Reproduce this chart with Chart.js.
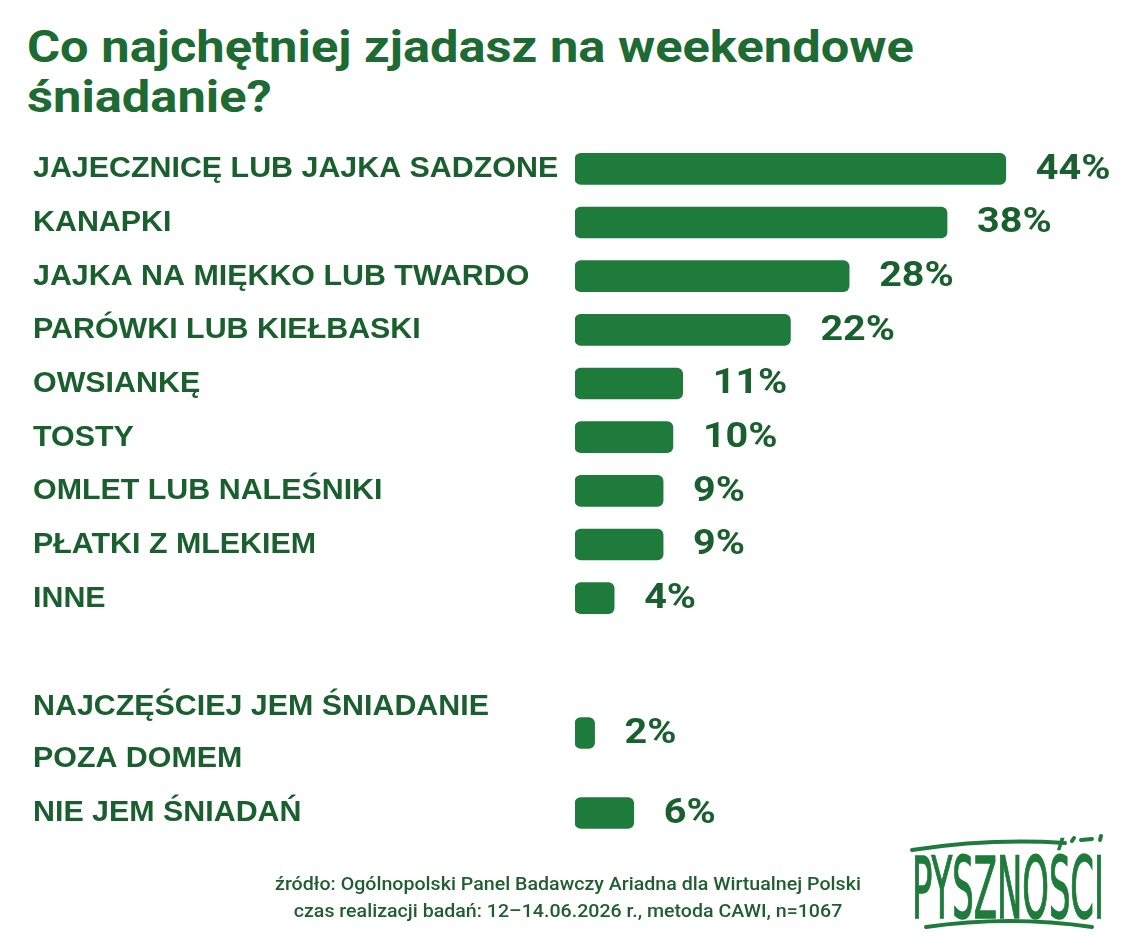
<!DOCTYPE html>
<html lang="pl">
<head>
<meta charset="utf-8">
<script src="https://cdn.jsdelivr.net/npm/chart.js@4"></script>
<style>
  html, body { margin: 0; padding: 0; background: #ffffff; }
  body { width: 1136px; height: 944px; position: relative; overflow: hidden; font-family: Roboto, "Liberation Sans", sans-serif; }
  #title { position: absolute; left: 27px; top: 22px; margin: 0; font-family: Roboto, sans-serif; font-weight: 700; font-size: 45px; line-height: 50px; color: #1d6b33; transform: scaleX(1.125); transform-origin: left top; white-space: nowrap; }
  .chart { position: absolute; left: 0; width: 1136px; }
  #c1wrap { top: 122px; height: 523px; }
  #c2wrap { top: 653px; height: 220px; }
  #footer { position: absolute; left: 168px; width: 800px; top: 871px; text-align: center; font-family: Roboto, sans-serif; font-weight: 500; font-size: 18.5px; line-height: 27px; color: #1f5f2f; }
  #footer div { transform: scaleX(1.06); white-space: nowrap; }
  #logo { position: absolute; left: 900px; top: 830px; }
</style>
</head>
<body>
<h1 id="title">Co najchętniej zjadasz na weekendowe<br>śniadanie?</h1>
<div class="chart" id="c1wrap"><canvas id="c1"></canvas></div>
<div class="chart" id="c2wrap"><canvas id="c2"></canvas></div>
<div id="footer">
  <div>źródło: Ogólnopolski Panel Badawczy Ariadna dla Wirtualnej Polski</div>
  <div>czas realizacji badań: 12–14.06.2026 r., metoda CAWI, n=1067</div>
</div>
<svg id="logo" width="220" height="110" viewBox="0 0 220 110">
  <path d="M12 20 Q 90 8 165 13" stroke="#1e7b3b" stroke-width="4" fill="none" stroke-linecap="round"/>
  <path d="M172 11 L 174 8" stroke="#1e7b3b" stroke-width="4" fill="none" stroke-linecap="round"/>
  <path d="M181 10 L 192 9" stroke="#1e7b3b" stroke-width="4" fill="none" stroke-linecap="round"/>
  <path d="M200 10 L 201 6" stroke="#1e7b3b" stroke-width="4" fill="none" stroke-linecap="round"/>
  <path d="M26 97 Q 110 85 192 97" stroke="#1e7b3b" stroke-width="4" fill="none" stroke-linecap="round"/>
  <text x="12" y="88" font-family="'DejaVu Sans Condensed', 'DejaVu Sans'" font-weight="normal" font-size="86" fill="#1e7b3b" stroke="#1e7b3b" stroke-width="1.5" textLength="192" lengthAdjust="spacingAndGlyphs">PYSZNOŚCI</text>
</svg>
<script>
const mainCategories = [
  'JAJECZNICĘ LUB JAJKA SADZONE',
  'KANAPKI',
  'JAJKA NA MIĘKKO LUB TWARDO',
  'PARÓWKI LUB KIEŁBASKI',
  'OWSIANKĘ',
  'TOSTY',
  'OMLET LUB NALEŚNIKI',
  'PŁATKI Z MLEKIEM',
  'INNE'
];
const mainValues = [44, 38, 28, 22, 11, 10, 9, 9, 4];

const extraCategories = [
  ['NAJCZĘŚCIEJ JEM ŚNIADANIE', 'POZA DOMEM'],
  'NIE JEM ŚNIADAŃ'
];
const extraValues = [2, 6];

const BAR_COLOR = '#1e7b3b';
const TEXT_COLOR = '#1a5f2e';
const X_MAX = 57.3;

const valueLabels = {
  id: 'valueLabels',
  afterDatasetsDraw(chart) {
    const ctx = chart.ctx;
    const meta = chart.getDatasetMeta(0);
    const data = chart.data.datasets[0].data;
    meta.data.forEach((bar, i) => {
      ctx.save();
      ctx.fillStyle = TEXT_COLOR;
      ctx.font = 'bold 35px Roboto, sans-serif';
      ctx.textAlign = 'left';
      ctx.textBaseline = 'middle';
      ctx.translate(bar.x + 30, bar.y + 1);
      ctx.scale(1.13, 1);
      ctx.fillText(data[i] + '%', 0, 0);
      ctx.restore();
    });
  }
};

function makeChart(id, labels, values, lineHeight, pad) {
  return new Chart(document.getElementById(id), {
    type: 'bar',
    data: {
      labels: labels,
      datasets: [{
        data: values,
        backgroundColor: BAR_COLOR,
        borderRadius: 6,
        borderSkipped: false,
        barThickness: 31
      }]
    },
    options: {
      indexAxis: 'y',
      responsive: true,
      maintainAspectRatio: false,
      animation: false,
      layout: { padding: { left: 33, right: 0, top: pad.top, bottom: pad.bottom } },
      plugins: { legend: { display: false }, tooltip: { enabled: false } },
      scales: {
        x: { display: false, min: 0, max: X_MAX },
        y: {
          grid: { display: false },
          border: { display: false },
          ticks: {
            autoSkip: false,
            crossAlign: 'far',
            padding: 0,
            color: TEXT_COLOR,
            font: { family: "'Liberation Sans', Arial, sans-serif", weight: 'bold', size: 30.4, lineHeight: lineHeight }
          },
          afterFit(s) {
            s.width = 575 - 33;
            s.paddingTop = 0;
            s.paddingBottom = 0;
          }
        }
      }
    },
    plugins: [valueLabels]
  });
}

makeChart('c1', mainCategories, mainValues, 1.2, { top: 20, bottom: 20 });
makeChart('c2', extraCategories, extraValues, 1.71, { top: 40, bottom: 20 });
</script>
</body>
</html>
